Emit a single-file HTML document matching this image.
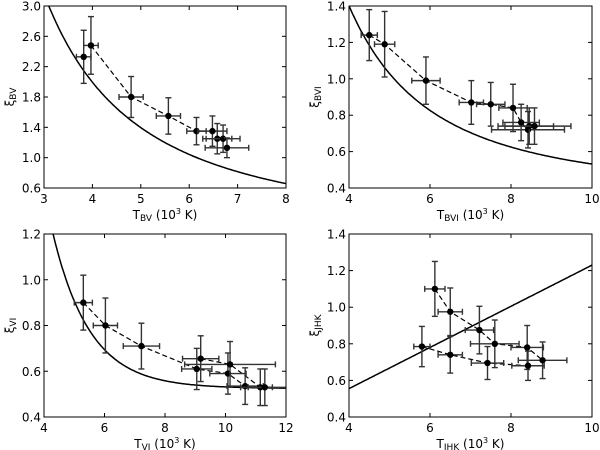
<!DOCTYPE html>
<html><head><meta charset="utf-8"><style>
body{margin:0;background:#fff}
svg{display:block;font-family:"DejaVu Sans","Liberation Sans",sans-serif}
</style></head><body>
<svg id="fig" width="600" height="450" viewBox="0 0 600 450"></svg>
<script>
const bvX=[3.82,3.97,4.8,5.57,6.15,6.48,6.58,6.7,6.78];
const bvY=[2.33,2.48,1.8,1.55,1.35,1.35,1.25,1.25,1.13];
const bvXe=[0.15,0.15,0.25,0.25,0.2,0.3,0.3,0.35,0.45];
const bvYe=[0.35,0.38,0.27,0.24,0.18,0.2,0.2,0.18,0.13];
const bviX=[4.5,4.88,5.9,7.02,7.5,8.05,8.25,8.42,8.45,8.58];
const bviY=[1.24,1.19,0.99,0.87,0.86,0.84,0.76,0.72,0.74,0.74];
const bviXe=[0.2,0.25,0.35,0.3,0.35,0.35,0.45,0.9,0.6,0.9];
const bviYe=[0.14,0.18,0.13,0.12,0.12,0.13,0.1,0.1,0.1,0.1];
const viX=[5.3,6.03,7.22,9.05,9.18,10.08,10.15,10.65,11.15,11.3];
const viY=[0.9,0.8,0.71,0.61,0.655,0.59,0.63,0.535,0.53,0.53];
const viXe=[0.3,0.4,0.6,0.5,0.6,0.6,1.5,0.6,0.4,0.8];
const viYe=[0.12,0.12,0.1,0.09,0.1,0.09,0.1,0.08,0.08,0.08];
const jhkX=[5.8,6.12,6.5,6.5,7.22,7.42,7.6,8.4,8.42,8.78];
const jhkY=[0.785,1.1,0.975,0.74,0.875,0.695,0.8,0.78,0.68,0.71];
const jhkXe=[0.2,0.25,0.3,0.3,0.35,0.4,0.6,0.4,0.4,0.6];
const jhkYe=[0.11,0.15,0.13,0.1,0.13,0.09,0.13,0.12,0.08,0.1];
const bvTicksX=[3,4,5,6,7,8], bvTicksY=[0.6,1.0,1.4,1.8,2.2,2.6,3.0];
const bviTicksX=[4,6,8,10], bviTicksY=[0.4,0.6,0.8,1.0,1.2,1.4];
const viTicksX=[4,6,8,10,12], viTicksY=[0.4,0.6,0.8,1.0,1.2];
const jhkTicksX=[4,6,8,10], jhkTicksY=[0.4,0.6,0.8,1.0,1.2,1.4];

const NS="http://www.w3.org/2000/svg";
const svg=document.getElementById('fig');
function mk(tag,attrs,parent){const e=document.createElementNS(NS,tag);for(const k in attrs)e.setAttribute(k,attrs[k]);(parent||svg).appendChild(e);return e;}

function panel(o){
  const g=mk('g',{});
  
  
  const sx=v=>o.l+(v-o.x0)/(o.x1-o.x0)*(o.r-o.l);
  const sy=v=>o.b-(v-o.y0)/(o.y1-o.y0)*(o.b-o.t);
  const clip='c'+o.name;
  const cp=mk('clipPath',{id:clip},g);mk('rect',{x:o.l,y:o.t,width:o.r-o.l,height:o.b-o.t},cp);
  const pg=mk('g',{'clip-path':'url(#'+clip+')'},g);
  // model curve
  let d='';for(let i=0;i<=200;i++){const v=o.x0+(o.x1-o.x0)*i/200;d+=(i?'L':'M')+sx(v).toFixed(1)+','+sy(o.f(v)).toFixed(1);}
  const c=mk('path',{d:d,fill:'none',stroke:'#000','stroke-width':1.5},pg);
  
  
  // dashed paths
  o.paths.forEach(p=>{let dd='';p.forEach((k,i)=>{dd+=(i?'L':'M')+sx(o.X[k])+','+sy(o.Y[k]);});
    const e=mk('path',{d:dd,fill:'none',stroke:'#000','stroke-width':1.2,'stroke-dasharray':'5,3'},pg);
    
    });
  // points
  o.X.forEach((xv,i)=>{
    const pgp=mk('g',{stroke:'#333','stroke-width':1.4},pg);
    
    
    const cx=sx(xv),cy=sy(o.Y[i]),x1=sx(xv-o.Xe[i]),x2=sx(xv+o.Xe[i]),y1=sy(o.Y[i]+o.Ye[i]),y2=sy(o.Y[i]-o.Ye[i]);
    mk('line',{x1:x1,y1:cy,x2:x2,y2:cy},pgp);
    mk('line',{x1:cx,y1:y1,x2:cx,y2:y2},pgp);
    mk('line',{x1:x1,y1:cy-3,x2:x1,y2:cy+3},pgp);mk('line',{x1:x2,y1:cy-3,x2:x2,y2:cy+3},pgp);
    mk('line',{x1:cx-3,y1:y1,x2:cx+3,y2:y1},pgp);mk('line',{x1:cx-3,y1:y2,x2:cx+3,y2:y2},pgp);
    mk('circle',{cx:cx,cy:cy,r:3.2,fill:'#000',stroke:'none'},pgp);
  });
  mk('rect',{x:o.l,y:o.t,width:o.r-o.l,height:o.b-o.t,fill:'none',stroke:'#000','stroke-width':1},g);
  o.tx.forEach(v=>{const x=sx(v);mk('line',{x1:x,y1:o.b,x2:x,y2:o.b-4,stroke:'#000'},g);mk('line',{x1:x,y1:o.t,x2:x,y2:o.t+4,stroke:'#000'},g);
    const t=mk('text',{x:x,y:o.b+15,'font-size':12,'text-anchor':'middle'},g);t.textContent=v;
    
    });
  o.ty.forEach(v=>{const y=sy(v);mk('line',{x1:o.l,y1:y,x2:o.l+4,y2:y,stroke:'#000'},g);mk('line',{x1:o.r,y1:y,x2:o.r-4,y2:y,stroke:'#000'},g);
    const t=mk('text',{x:o.l-3,y:y+4.5,'font-size':12,'text-anchor':'end'},g);t.textContent=v.toFixed(1);
    
    });
  const xl=mk('text',{x:(o.l+o.r)/2,y:o.b+31,'font-size':12,'text-anchor':'middle'},g);
  xl.innerHTML='T<tspan font-size="9" dy="2">'+o.sub+'</tspan><tspan dy="-2"> (10</tspan><tspan font-size="8" dy="-5">3</tspan><tspan dy="5">  K)</tspan>';
  
  
  const yx=o.l-30,yy=(o.t+o.b)/2;
  const yl=mk('text',{x:yx,y:yy,'font-size':12,'text-anchor':'middle',transform:'rotate(-90 '+yx+' '+yy+')'},g);
  yl.innerHTML='ξ<tspan font-size="9" dy="2">'+o.sub+'</tspan>';
  
  
}
panel({name:'panel-bv',l:44,r:286,t:6,b:188,x0:3,x1:8,y0:0.6,y1:3.0,X:bvX,Y:bvY,Xe:bvXe,Ye:bvYe,tx:bvTicksX,ty:bvTicksY,sub:'BV',
  f:v=>3*Math.pow(3.1/v,1.6),paths:[[1,2,3,4]]});
panel({name:'panel-bvi',l:349,r:592,t:6,b:188,x0:4,x1:10,y0:0.4,y1:1.4,X:bviX,Y:bviY,Xe:bviXe,Ye:bviYe,tx:bviTicksX,ty:bviTicksY,sub:'BVI',
  f:v=>0.366+16.57/(v*v),paths:[[0,1,2,3,4,5,6,7]]});
panel({name:'panel-vi',l:44,r:286,t:234,b:417,x0:4,x1:12,y0:0.4,y1:1.2,X:viX,Y:viY,Xe:viXe,Ye:viYe,tx:viTicksX,ty:viTicksY,sub:'VI',
  f:v=>0.525+0.675*Math.exp(-(v-4.3)/1.23),paths:[[0,1,2,3,5,7,9],[4,6,8]]});
panel({name:'panel-jhk',l:349,r:592,t:234,b:417,x0:4,x1:10,y0:0.4,y1:1.4,X:jhkX,Y:jhkY,Xe:jhkXe,Ye:jhkYe,tx:jhkTicksX,ty:jhkTicksY,sub:'JHK',
  f:v=>0.555+(v-4)*(1.23-0.555)/6,paths:[[1,2,4,6,7,9],[0,3,5,8]]});
</script>
</body></html>
